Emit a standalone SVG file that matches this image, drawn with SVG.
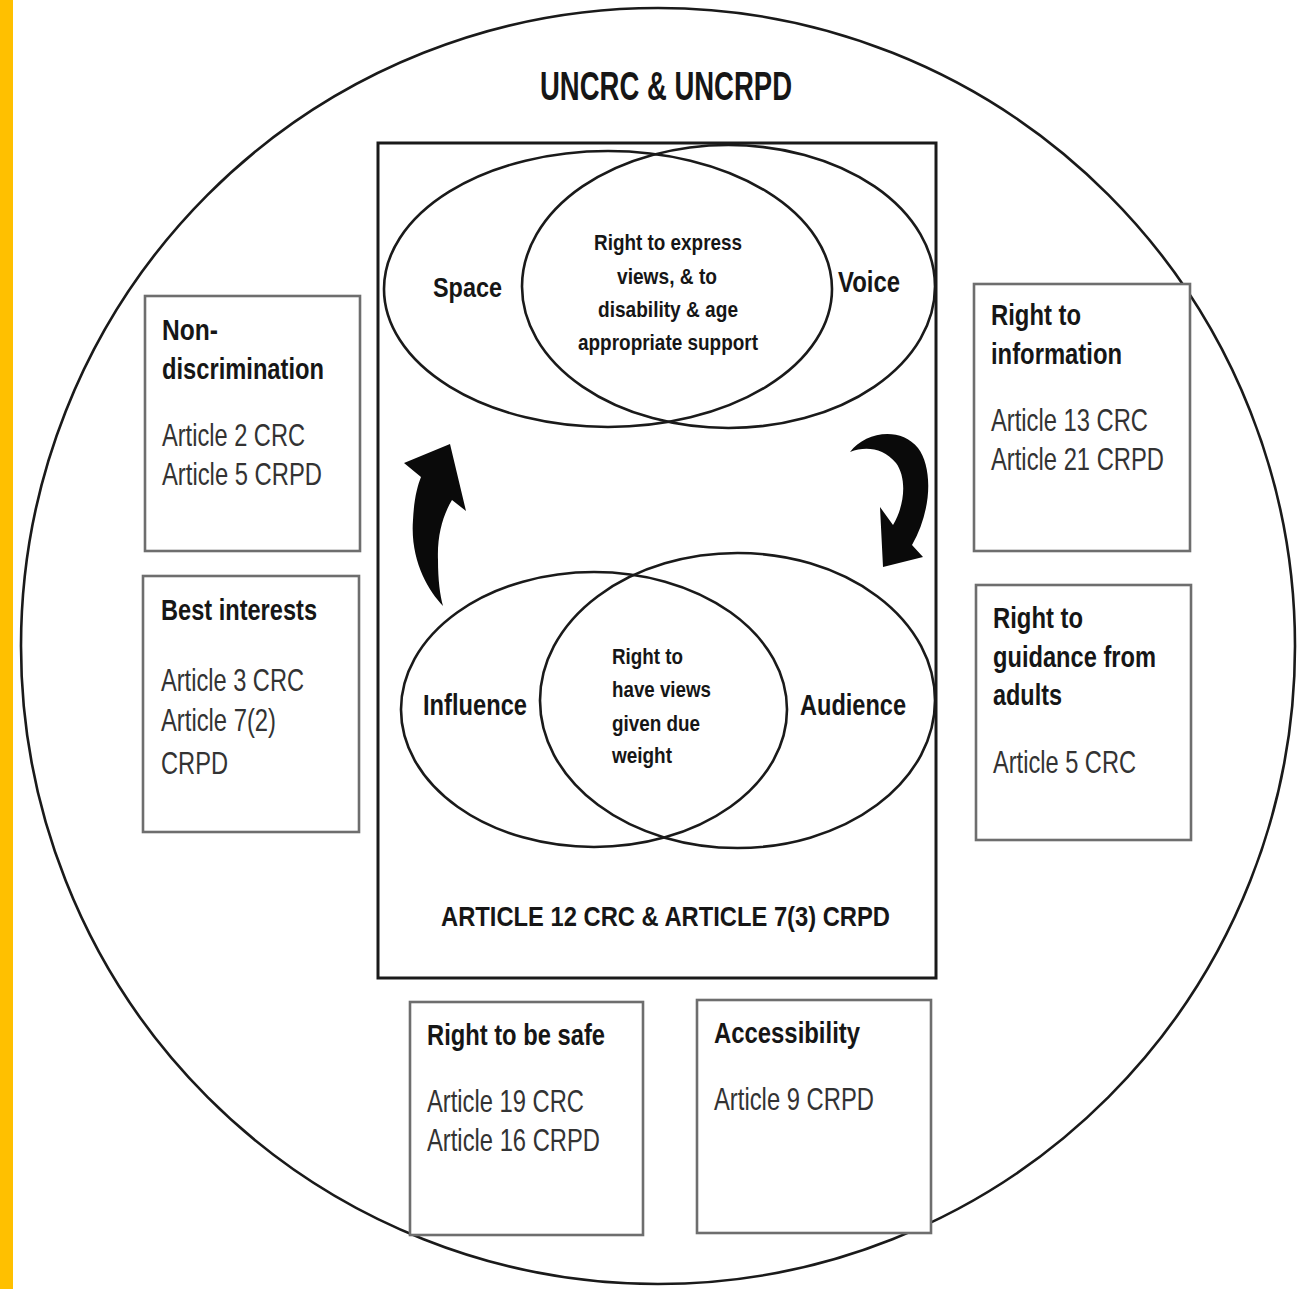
<svg xmlns="http://www.w3.org/2000/svg" width="1298" height="1289" viewBox="0 0 1298 1289">
<style>
.line{fill:none;stroke:#1a1a1a;stroke-width:2.6}
.box{fill:#fff;stroke:#6e6e6e;stroke-width:2.6}
.h{font-family:"Liberation Sans",Arial,sans-serif;font-weight:bold;fill:#161616}
.r{font-family:"Liberation Sans",Arial,sans-serif;fill:#333}
.arrow{fill:#0a0a0a;stroke:none}
</style>
<rect x="0" y="0" width="1298" height="1289" fill="#fff"/>
<rect id="sidebar" x="0" y="0" width="13" height="1289" fill="#FFC000"/>
<g id="outer-circle">
<ellipse class="line" cx="658" cy="646" rx="637" ry="638"/>
<text class="h" x="540" y="100" font-size="40" textLength="252" lengthAdjust="spacingAndGlyphs">UNCRC &amp; UNCRPD</text>
</g>
<g id="article12-frame">
<rect x="378" y="143" width="558" height="835" fill="none" stroke="#1a1a1a" stroke-width="3"/>
<text class="h" x="441" y="926" font-size="28" textLength="449" lengthAdjust="spacingAndGlyphs">ARTICLE 12 CRC &amp; ARTICLE 7(3) CRPD</text>
</g>
<g id="venn-top">
<ellipse class="line" cx="608" cy="289" rx="224" ry="138"/>
<ellipse class="line" cx="728.5" cy="286.5" rx="206.5" ry="141.5"/>
<text class="h" x="433" y="297" font-size="28" textLength="69" lengthAdjust="spacingAndGlyphs">Space</text>
<text class="h" x="838" y="292" font-size="30" textLength="62" lengthAdjust="spacingAndGlyphs">Voice</text>
<g text-anchor="middle" font-size="22" class="h">
<text class="h" x="668" y="250" textLength="148" lengthAdjust="spacingAndGlyphs">Right to express</text>
<text class="h" x="667" y="284" textLength="100" lengthAdjust="spacingAndGlyphs">views, &amp; to</text>
<text class="h" x="668" y="317" textLength="140" lengthAdjust="spacingAndGlyphs">disability &amp; age</text>
<text class="h" x="668" y="350" textLength="180" lengthAdjust="spacingAndGlyphs">appropriate support</text>
</g>
</g>
<g id="venn-bottom">
<ellipse class="line" cx="594" cy="709.5" rx="193" ry="137.5"/>
<ellipse class="line" cx="737.5" cy="700.5" rx="197.5" ry="147.5"/>
<text class="h" x="423" y="715" font-size="29" textLength="104" lengthAdjust="spacingAndGlyphs">Influence</text>
<text class="h" x="800" y="715" font-size="29" textLength="106" lengthAdjust="spacingAndGlyphs">Audience</text>
<g font-size="22">
<text class="h" x="612" y="664" textLength="71" lengthAdjust="spacingAndGlyphs">Right to</text>
<text class="h" x="612" y="697" textLength="99" lengthAdjust="spacingAndGlyphs">have views</text>
<text class="h" x="612" y="731" textLength="88" lengthAdjust="spacingAndGlyphs">given due</text>
<text class="h" x="612" y="763" textLength="60" lengthAdjust="spacingAndGlyphs">weight</text>
</g>
</g>
<g id="connectors">
<path class="arrow" d="M443,606 C428,590 410,560 413,520 C414,500 417,487 421,477 L404,463 L450,444 L466,511 L452,500 C443,515 437,535 438,560 C438,580 440,595 443,606 Z"/>
<path class="arrow" d="M850,452 C865,432 900,426 918,448 C933,468 932,510 912,545 L923,557 L883,567 L880,507 L893,525 C905,505 907,478 896,463 C883,448 866,446 850,452 Z"/>
</g>
<g id="non-discrimination">
<rect class="box" x="145" y="296" width="215" height="255"/>
<text class="h" x="162" y="340" font-size="30" textLength="56" lengthAdjust="spacingAndGlyphs">Non-</text>
<text class="h" x="162" y="379" font-size="30" textLength="162" lengthAdjust="spacingAndGlyphs">discrimination</text>
<text class="r" x="162" y="446" font-size="32" textLength="143" lengthAdjust="spacingAndGlyphs">Article 2 CRC</text>
<text class="r" x="162" y="485" font-size="32" textLength="160" lengthAdjust="spacingAndGlyphs">Article 5 CRPD</text>
</g>
<g id="best-interests">
<rect class="box" x="143" y="576" width="216" height="256"/>
<text class="h" x="161" y="620" font-size="30" textLength="156" lengthAdjust="spacingAndGlyphs">Best interests</text>
<text class="r" x="161" y="691" font-size="32" textLength="143" lengthAdjust="spacingAndGlyphs">Article 3 CRC</text>
<text class="r" x="161" y="731" font-size="32" textLength="115" lengthAdjust="spacingAndGlyphs">Article 7(2)</text>
<text class="r" x="161" y="774" font-size="32" textLength="67" lengthAdjust="spacingAndGlyphs">CRPD</text>
</g>
<g id="right-to-information">
<rect class="box" x="974" y="284" width="216" height="267"/>
<text class="h" x="991" y="325" font-size="30" textLength="90" lengthAdjust="spacingAndGlyphs">Right to</text>
<text class="h" x="991" y="364" font-size="30" textLength="131" lengthAdjust="spacingAndGlyphs">information</text>
<text class="r" x="991" y="431" font-size="32" textLength="157" lengthAdjust="spacingAndGlyphs">Article 13 CRC</text>
<text class="r" x="991" y="470" font-size="32" textLength="173" lengthAdjust="spacingAndGlyphs">Article 21 CRPD</text>
</g>
<g id="right-to-guidance">
<rect class="box" x="976" y="585" width="215" height="255"/>
<text class="h" x="993" y="628" font-size="30" textLength="90" lengthAdjust="spacingAndGlyphs">Right to</text>
<text class="h" x="993" y="667" font-size="30" textLength="163" lengthAdjust="spacingAndGlyphs">guidance from</text>
<text class="h" x="993" y="705" font-size="30" textLength="69" lengthAdjust="spacingAndGlyphs">adults</text>
<text class="r" x="993" y="773" font-size="32" textLength="143" lengthAdjust="spacingAndGlyphs">Article 5 CRC</text>
</g>
<g id="right-to-be-safe">
<rect class="box" x="410" y="1002" width="233" height="233"/>
<text class="h" x="427" y="1045" font-size="30" textLength="178" lengthAdjust="spacingAndGlyphs">Right to be safe</text>
<text class="r" x="427" y="1112" font-size="32" textLength="157" lengthAdjust="spacingAndGlyphs">Article 19 CRC</text>
<text class="r" x="427" y="1151" font-size="32" textLength="173" lengthAdjust="spacingAndGlyphs">Article 16 CRPD</text>
</g>
<g id="accessibility">
<rect class="box" x="697" y="1000" width="234" height="233"/>
<text class="h" x="714" y="1043" font-size="30" textLength="146" lengthAdjust="spacingAndGlyphs">Accessibility</text>
<text class="r" x="714" y="1110" font-size="32" textLength="160" lengthAdjust="spacingAndGlyphs">Article 9 CRPD</text>
</g>
</svg>
